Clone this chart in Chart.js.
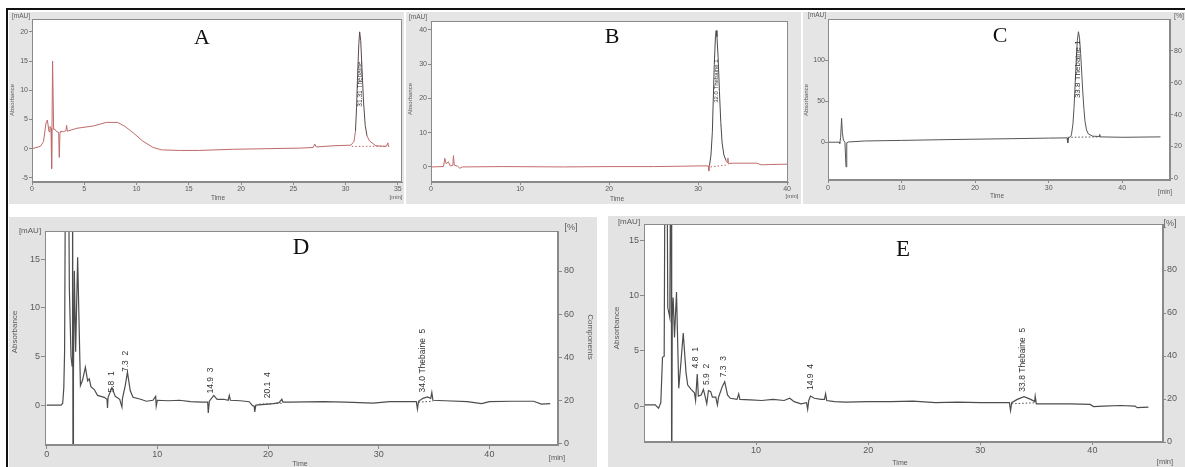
<!DOCTYPE html>
<html><head><meta charset="utf-8">
<script src="https://cdn.jsdelivr.net/npm/chart.js@4/dist/chart.umd.min.js"></script>
<style>
html,body{margin:0;padding:0;background:#fff;}
body{width:1185px;height:467px;position:relative;overflow:hidden;}
.panel{position:absolute;}
.panel canvas{position:absolute;left:0;top:0;}
#frameTop{position:absolute;left:6px;top:8px;width:1179px;height:2px;background:#111;}
#frameLeft{position:absolute;left:6px;top:8px;width:2px;height:459px;background:#111;}
</style></head><body>
<div id="frameTop"></div><div id="frameLeft"></div>
<script>
// ---------------- DATA ----------------
// Panel A: [time (min), absorbance (mAU)]
const traceA = [[0,0],[0.8,0.4],[1.1,1.2],[1.34,4.4],[1.47,4.9],[1.63,2.9],[1.72,3.8],[1.82,3.5],[1.88,-3.4],[1.97,15.0],[2.07,3.3],[2.2,3.3],[2.36,2.9],[2.55,2.8],[2.61,-1.5],[2.68,2.8],[2.75,3.0],[3.0,2.9],[3.25,3.1],[3.31,4.0],[3.38,3.0],[4.3,3.5],[5.9,3.9],[7.1,4.5],[8.2,4.5],[8.9,3.8],[9.7,2.7],[10.6,1.3],[11.6,0.2],[12.4,-0.2],[14.1,-0.3],[16.0,-0.3],[19.2,-0.1],[22.4,0.0],[25.6,0.1],[26.9,0.2],[27.05,0.8],[27.2,0.3],[28.8,0.5],[30.5,0.6],[30.8,1.2],[30.95,3.0],[31.05,7.0],[31.15,12.5],[31.27,18.0],[31.35,20.0],[31.45,18.5],[31.58,13.5],[31.72,8.0],[31.88,4.0],[32.05,2.2],[32.3,1.3],[32.9,0.5],[33.9,0.4],[34.05,1.0],[34.1,0.4],[34.2,0.4]];
const baseA = [[30.6,0.4],[33.8,0.4]];
const xTicksA = [0,5,10,15,20,25,30,35];
const yTicksA = [-5,0,5,10,15,20];
const peakNamesA = ['31.31 Thebaine'];
const peakTimesA = [31.36];
const peakLabelYA = [7.2];

// Panel B
const traceB = [[0,0],[1.4,0.1],[1.55,2.5],[1.7,0.9],[1.95,1.5],[2.15,0.3],[2.45,0.4],[2.52,3.3],[2.62,0.5],[3.0,0.2],[3.25,-0.4],[3.5,0.0],[8,0.1],[15,0.0],[20,0.1],[25,0.1],[28,0.2],[30.2,0.3],[31.15,0.3],[31.2,-1.2],[31.28,0.4],[31.45,3.5],[31.6,10],[31.7,19],[31.82,30],[31.95,38],[32.03,39.8],[32.12,38],[32.25,32],[32.4,22],[32.55,13],[32.7,7],[32.9,3.5],[33.15,1.8],[33.3,1.2],[33.35,2.6],[33.4,1.0],[34,1.1],[36.6,1.1],[37.1,0.6],[38,0.7],[40,0.8]];
const baseB = [[31.4,0.0],[33.4,0.6]];
const xTicksB = [0,10,20,30,40];
const yTicksB = [0,10,20,30,40];
const peakNamesB = ['32.0 Thebaine 1'];
const peakTimesB = [32.1];
const peakLabelYB = [18.7];

// Panel C
const traceC = [[0,0],[1.5,0],[1.6,-1.5],[1.72,6],[1.85,29],[1.95,12],[2.1,2.4],[2.3,0],[2.45,-30],[2.55,-0.7],[2.8,0.3],[5,1.5],[10,2.2],[15,3.0],[20,3.7],[25,4.3],[30,5.0],[32.5,5.3],[32.6,-0.7],[32.7,5.3],[33.0,7],[33.1,9],[33.3,22],[33.45,42],[33.6,70],[33.75,100],[33.9,124],[34.05,134.5],[34.2,127],[34.35,108],[34.5,84],[34.65,60],[34.8,40],[34.95,25],[35.15,15],[35.4,10],[36.0,7.3],[36.9,7.0],[36.95,9.5],[37.0,6.5],[40,6.0],[45.2,6.5]];
const baseC = [[32.6,6.0],[37.0,6.5]];
const xTicksC = [0,10,20,30,40];
const yTicksC = [0,50,100];
const pctTicksC = [0,20,40,60,80];
const peakNamesC = ['33.8 Thebaine 1'];
const peakTimesC = [34.0];
const peakLabelYC = [53.7];

// Panel D
const traceD = [[0,0],[1.3,0],[1.45,0.2],[1.55,1.8],[1.62,5.5],[1.72,30],[1.95,30],[2.05,12],[2.2,5],[2.3,4],[2.34,30],[2.38,-10],[2.42,3],[2.5,13.8],[2.62,5.5],[2.8,15.2],[3.05,2.0],[3.25,2.6],[3.5,3.9],[3.7,2.5],[3.85,2.7],[4.0,1.9],[4.3,1.6],[4.6,1.0],[4.9,0.9],[5.2,0.8],[5.45,0.6],[5.5,-0.3],[5.55,0.8],[5.9,1.8],[6.2,0.9],[6.6,0.6],[6.8,-0.2],[6.85,0.7],[7.1,2.0],[7.3,3.4],[7.55,1.5],[7.8,0.8],[8.5,0.6],[9.0,0.4],[9.6,0.5],[9.85,0.9],[9.9,-0.1],[10.0,0.5],[11,0.45],[12,0.5],[13,0.35],[14,0.3],[14.55,0.3],[14.6,-0.8],[14.7,0.4],[15.1,1.0],[15.4,0.6],[16.0,0.6],[16.4,0.5],[16.5,1.0],[16.6,0.5],[17.5,0.45],[18.3,0.35],[18.6,-0.05],[18.75,-0.1],[18.8,-0.7],[18.9,0.0],[20.0,0.1],[20.5,0.15],[21.0,0.25],[21.25,0.6],[21.35,0.3],[22,0.3],[25,0.35],[27,0.3],[29.5,0.2],[31,0.35],[33.4,0.35],[33.5,-0.4],[33.6,0.4],[34.0,0.7],[34.4,0.85],[34.7,0.7],[34.8,1.3],[34.9,0.5],[36,0.45],[38,0.35],[39.3,0.15],[40,0.35],[42,0.4],[44,0.4],[44.7,0.1],[45.5,0.15]];
const baseD1 = [[19.2,0.1],[21.4,0.2]];
const baseD2 = [[33.6,0.3],[34.9,0.4]];
const xTicksD = [0,10,20,30,40];
const yTicksD = [0,5,10,15];
const pctTicksD = [0,20,40,60,80];
const peakNamesD = ['5.8  1','7.3  2','14.9  3','20.1  4','34.0 Thebaine  5'];
const peakTimesD = [5.9,7.17,14.86,20.0,34.0];
const peakLabelYD = [1.3,3.4,1.2,0.7,1.3];

// Panel E
const traceE = [[0,0.1],[1.0,0.1],[1.3,-0.2],[1.5,0.3],[1.65,4.4],[1.8,4.5],[1.9,30],[2.02,30],[2.12,8.9],[2.3,8.0],[2.42,30],[2.47,-10],[2.52,8],[2.6,9.8],[2.72,6.2],[2.9,10.3],[3.1,1.6],[3.3,4.0],[3.5,6.6],[3.75,3.0],[3.9,1.9],[4.2,1.5],[4.5,1.2],[4.6,0.5],[4.75,2.9],[4.85,0.9],[5.1,1.0],[5.3,1.5],[5.45,0.9],[5.6,0.2],[5.75,1.4],[5.95,1.3],[6.1,0.8],[6.4,0.8],[6.55,0.1],[6.65,0.8],[7.0,1.8],[7.2,2.2],[7.45,1.0],[7.7,0.7],[8.3,0.6],[8.45,1.1],[8.55,0.6],[9.5,0.55],[10.5,0.5],[11.5,0.6],[12.5,0.5],[13.0,0.7],[13.4,0.4],[14.0,0.2],[14.5,0.3],[14.6,-0.3],[14.7,0.5],[14.85,0.9],[15.2,0.7],[15.8,0.6],[16.1,0.6],[16.2,1.1],[16.3,0.5],[17,0.4],[18,0.35],[20,0.4],[22,0.4],[24,0.45],[26,0.3],[28,0.35],[30,0.3],[32.6,0.3],[32.7,-0.4],[32.8,0.3],[33.3,0.6],[33.9,0.85],[34.5,0.6],[34.85,0.4],[34.9,0.9],[35.0,0.2],[36,0.2],[38,0.2],[39.8,0.15],[40.1,-0.05],[41,0.0],[42.5,0.05],[43.8,0.0],[44.0,-0.15],[45.0,-0.1]];
const baseE = [[32.8,0.2],[34.9,0.3]];
const xTicksE = [10,20,30,40];
const yTicksE = [0,5,10,15];
const pctTicksE = [0,20,40,60,80];
const peakNamesE = ['4.8  1','5.9  2','7.3  3','14.9  4','33.8 Thebaine  5'];
const peakTimesE = [4.64,5.6,7.14,14.9,33.75];
const peakLabelYE = [3.4,1.9,2.6,1.45,1.3];

// ---------------- RENDERING ----------------
const SANS = '"Liberation Sans", Arial, sans-serif';
const SERIF = '"Liberation Serif", "Times New Roman", serif';
const AXIS = '#8a8a8a';
const TXT = '#5a5a5a';

function buildPanel(p) {
  const [px, py, pw, ph] = p.rect;
  const [L, T, R, B] = p.area;
  const wrap = document.createElement('div');
  wrap.className = 'panel';
  Object.assign(wrap.style, {left: px + 'px', top: py + 'px', width: pw + 'px', height: ph + 'px', background: p.bg});
  const cv = document.createElement('canvas');
  cv.width = pw; cv.height = ph;
  cv.style.width = pw + 'px'; cv.style.height = ph + 'px';
  wrap.appendChild(cv);
  document.body.appendChild(wrap);

  const wY2 = p.pctTicks ? p.wY2 : 0;
  const padding = {left: L - px - p.wY, top: T - py, right: px + pw - R - wY2, bottom: py + ph - B - p.hX};
  const tf = {family: SANS, size: p.fs};

  const scales = {
    x: {
      type: 'linear', position: 'bottom', min: p.xRange[0], max: p.xRange[1],
      afterBuildTicks: s => { s.ticks = p.xTicks.map(v => ({value: v})); },
      afterFit: s => { s.height = p.hX; s.paddingLeft = 0; s.paddingRight = 0; },
      grid: {drawOnChartArea: false, drawTicks: true, tickLength: p.xTickLen, color: AXIS},
      border: {display: true, color: AXIS},
      ticks: {font: tf, color: TXT, padding: p.xTickPad, maxRotation: 0, minRotation: 0, autoSkip: false}
    },
    y: {
      type: 'linear', position: 'left', min: p.yRange[0], max: p.yRange[1],
      afterBuildTicks: s => { s.ticks = p.yTicks.map(v => ({value: v})); },
      afterFit: s => { s.width = p.wY; s.paddingTop = 0; s.paddingBottom = 0; },
      grid: {drawOnChartArea: false, drawTicks: true, tickLength: p.yTickLen, color: AXIS},
      border: {display: true, color: AXIS},
      ticks: {font: tf, color: TXT, padding: p.yTickPad, autoSkip: false}
    }
  };
  if (p.pctTicks) {
    scales.y2 = {
      type: 'linear', position: 'right', min: p.y2Range[0], max: p.y2Range[1],
      afterBuildTicks: s => { s.ticks = p.pctTicks.map(v => ({value: v})); },
      afterFit: s => { s.width = p.wY2; s.paddingTop = 0; s.paddingBottom = 0; },
      grid: {drawOnChartArea: false, drawTicks: true, tickLength: p.y2TickLen, color: AXIS},
      border: {display: true, color: AXIS},
      ticks: {font: tf, color: TXT, padding: p.y2TickPad, autoSkip: false}
    };
  }

  const datasets = [{
    data: p.trace.map(([x, y]) => ({x, y})),
    borderColor: p.lineColor, borderWidth: p.lw, pointRadius: 0, tension: 0,
    xAxisID: 'x', yAxisID: 'y',
    segment: p.peakColor ? {borderColor: c => (c.p1.parsed.x > 30 && Math.max(c.p0.parsed.y, c.p1.parsed.y) > p.peakThr) ? p.peakColor : p.lineColor} : undefined
  }];
  p.baselines.forEach(bl => datasets.push({
    data: bl.map(([x, y]) => ({x, y})), borderColor: p.lineColor, borderWidth: 1,
    borderDash: [1.5, 2], pointRadius: 0, tension: 0, xAxisID: 'x', yAxisID: 'y'
  }));

  const deco = {
    id: 'deco',
    beforeDraw(chart) {
      const ctx = chart.ctx, a = chart.chartArea;
      ctx.save();
      ctx.fillStyle = '#ffffff';
      ctx.fillRect(a.left, a.top, a.right - a.left, a.bottom - a.top);
      ctx.restore();
    },
    afterDatasetsDraw(chart) {
      const ctx = chart.ctx, a = chart.chartArea;
      ctx.save();
      ctx.strokeStyle = AXIS; ctx.lineWidth = 1;
      ctx.strokeRect(Math.round(a.left) + 0.5, Math.round(a.top) + 0.5, Math.round(a.right - a.left) - 1, Math.round(a.bottom - a.top) - 1);
      // peak labels (vertical)
      const xs = chart.scales.x, ys = chart.scales.y;
      ctx.fillStyle = '#333';
      ctx.font = p.peakFs + 'px ' + SANS;
      p.peakNames.forEach((lab, i) => {
        const x = xs.getPixelForValue(p.peakTimes[i]);
        const y = ys.getPixelForValue(p.peakLabelY[i]);
        ctx.save();
        ctx.translate(x, y); ctx.rotate(-Math.PI / 2);
        ctx.textAlign = 'left'; ctx.textBaseline = 'middle';
        ctx.fillText(lab, 0, 0);
        ctx.restore();
      });
      // free texts
      p.texts.forEach(t => {
        ctx.save();
        ctx.fillStyle = t.color || TXT;
        ctx.font = (t.bold ? 'bold ' : '') + t.size + 'px ' + (t.serif ? SERIF : SANS);
        ctx.textAlign = t.align || 'center'; ctx.textBaseline = 'middle';
        ctx.translate(t.x - px, t.y - py);
        if (t.rot) ctx.rotate(t.rot * Math.PI / 180);
        ctx.fillText(t.s, 0, 0);
        ctx.restore();
      });
      ctx.restore();
    }
  };

  new Chart(cv, {
    type: 'line',
    data: {datasets},
    options: {
      responsive: false, animation: false, events: [],
      plugins: {legend: {display: false}, tooltip: {enabled: false}, title: {display: false}},
      layout: {padding},
      scales
    },
    plugins: [deco]
  });
}

buildPanel({
  rect: [9, 12, 395, 192], area: [32, 19, 402, 182], bg: '#e5e5e5',
  wY: 14, hX: 14, fs: 7, xTickLen: 3, xTickPad: 0, yTickLen: 3, yTickPad: 1,
  xRange: [0, 35.4], yRange: [-5.7, 22.2], xTicks: xTicksA, yTicks: yTicksA,
  trace: traceA, baselines: [baseA], lineColor: '#bf6a6a', peakColor: '#5a4a4a', peakThr: 3, lw: 1,
  peakNames: peakNamesA, peakTimes: peakTimesA, peakLabelY: peakLabelYA, peakFs: 6.5,
  texts: [
    {s: '[mAU]', x: 21, y: 16, size: 6.5},
    {s: 'Absorbance', x: 12, y: 100, size: 6, rot: -90},
    {s: 'Time', x: 218, y: 198, size: 6.5},
    {s: '[min]', x: 396, y: 197, size: 6},
    {s: 'A', x: 202, y: 38, size: 22, serif: true, color: '#111'}
  ]
});
buildPanel({
  rect: [406, 12, 395, 192], area: [431, 21, 788, 182], bg: '#e5e5e5',
  wY: 14, hX: 14, fs: 7, xTickLen: 3, xTickPad: 0, yTickLen: 3, yTickPad: 1,
  xRange: [0, 40.1], yRange: [-4.4, 42.6], xTicks: xTicksB, yTicks: yTicksB,
  trace: traceB, baselines: [baseB], lineColor: '#c46c6c', peakColor: '#4a4a4a', peakThr: 3, lw: 1,
  peakNames: peakNamesB, peakTimes: peakTimesB, peakLabelY: peakLabelYB, peakFs: 6,
  texts: [
    {s: '[mAU]', x: 418, y: 17, size: 6.5},
    {s: 'Absorbance', x: 410, y: 99, size: 6, rot: -90},
    {s: 'Time', x: 617, y: 199, size: 6.5},
    {s: '[min]', x: 792, y: 196, size: 6},
    {s: 'B', x: 612, y: 37, size: 22, serif: true, color: '#111'}
  ]
});
buildPanel({
  rect: [803, 12, 382, 192], area: [828, 19, 1170, 180], bg: '#e5e5e5',
  wY: 16, wY2: 14, hX: 14, fs: 7, xTickLen: 3, xTickPad: 1, yTickLen: 3, yTickPad: 0, y2TickLen: 3, y2TickPad: 1,
  xRange: [0, 46.5], yRange: [-46, 150], y2Range: [-1, 100], xTicks: xTicksC, yTicks: yTicksC, pctTicks: pctTicksC,
  trace: traceC, baselines: [baseC], lineColor: '#555', lw: 1,
  peakNames: peakNamesC, peakTimes: peakTimesC, peakLabelY: peakLabelYC, peakFs: 8,
  texts: [
    {s: '[mAU]', x: 817, y: 15, size: 6.5},
    {s: 'Absorbance', x: 806, y: 100, size: 6, rot: -90},
    {s: '[%]', x: 1179, y: 16, size: 7},
    {s: 'Time', x: 997, y: 196, size: 6.5},
    {s: '[min]', x: 1165, y: 192, size: 6.5},
    {s: 'C', x: 1000, y: 36, size: 22, serif: true, color: '#111'}
  ]
});
buildPanel({
  rect: [9, 217, 588, 250], area: [45, 231, 558, 445], bg: '#e3e3e3',
  wY: 22, wY2: 24, hX: 16, fs: 9, xTickLen: 4, xTickPad: 0, yTickLen: 4, yTickPad: 1, y2TickLen: 4, y2TickPad: 2,
  xRange: [-0.15, 46.2], yRange: [-4.1, 17.9], y2Range: [-0.9, 98.6], xTicks: xTicksD, yTicks: yTicksD, pctTicks: pctTicksD,
  trace: traceD, baselines: [baseD1, baseD2], lineColor: '#4d4d4d', lw: 1.2,
  peakNames: peakNamesD, peakTimes: peakTimesD, peakLabelY: peakLabelYD, peakFs: 8.5,
  texts: [
    {s: '[mAU]', x: 30, y: 231, size: 8},
    {s: 'Absorbance', x: 15, y: 332, size: 8, rot: -90},
    {s: '[%]', x: 571, y: 228, size: 9},
    {s: 'Components', x: 590, y: 337, size: 8, rot: 90},
    {s: 'Time', x: 300, y: 464, size: 7},
    {s: '[min]', x: 557, y: 458, size: 7.5},
    {s: 'D', x: 301, y: 248, size: 23, serif: true, color: '#111'}
  ]
});
buildPanel({
  rect: [608, 216, 577, 251], area: [644, 224, 1163, 442], bg: '#e3e3e3',
  wY: 22, wY2: 20, hX: 16, fs: 9, xTickLen: 3, xTickPad: 0, yTickLen: 4, yTickPad: 1, y2TickLen: 3, y2TickPad: 1,
  xRange: [0, 46.3], yRange: [-3.25, 16.45], y2Range: [0, 101.4], xTicks: xTicksE, yTicks: yTicksE, pctTicks: pctTicksE,
  trace: traceE, baselines: [baseE], lineColor: '#4d4d4d', lw: 1.2,
  peakNames: peakNamesE, peakTimes: peakTimesE, peakLabelY: peakLabelYE, peakFs: 8.5,
  texts: [
    {s: '[mAU]', x: 629, y: 222, size: 8},
    {s: 'Absorbance', x: 617, y: 328, size: 8, rot: -90},
    {s: '[%]', x: 1170, y: 224, size: 9},
    {s: 'Time', x: 900, y: 463, size: 7},
    {s: '[min]', x: 1165, y: 462, size: 7.5},
    {s: 'E', x: 903, y: 250, size: 23, serif: true, color: '#111'}
  ]
});
</script>
</body></html>
